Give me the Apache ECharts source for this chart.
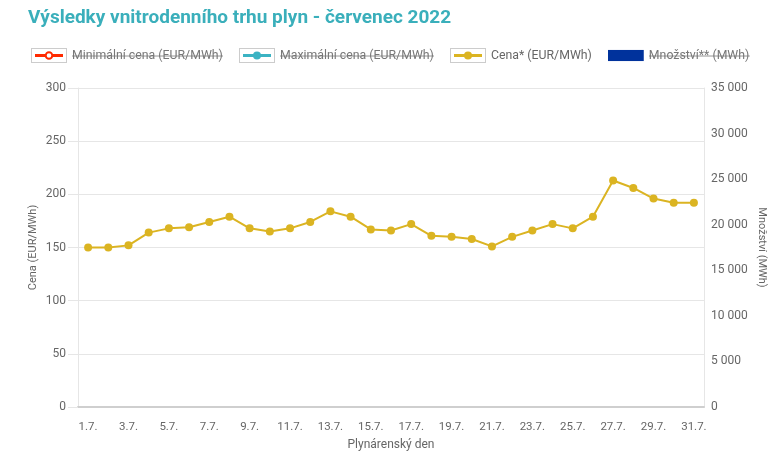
<!DOCTYPE html>
<html><head><meta charset="utf-8">
<script src="https://cdn.jsdelivr.net/npm/echarts@6/dist/echarts.min.js"></script>
<style>html,body{margin:0;padding:0;background:#fff}#c{width:780px;height:454px}</style>
</head><body><div id="c"></div>
<script>
const days = ['1.7.','2.7.','3.7.','4.7.','5.7.','6.7.','7.7.','8.7.','9.7.','10.7.','11.7.','12.7.','13.7.','14.7.','15.7.','16.7.','17.7.','18.7.','19.7.','20.7.','21.7.','22.7.','23.7.','24.7.','25.7.','26.7.','27.7.','28.7.','29.7.','30.7.','31.7.'];
const priceEUR = [150, 150, 152, 164, 168, 169, 174, 179, 168, 165, 168, 174, 184, 179, 167, 166, 172, 161, 160, 158, 151, 160, 166, 172, 168, 179, 213, 206, 196, 192, 192];
const minPrice = [];
const maxPrice = [];
const quantity = [];
const seriesNames = ['Minimální cena (EUR/MWh)', 'Maximální cena (EUR/MWh)', 'Cena* (EUR/MWh)', 'Množství** (MWh)'];
const hiddenSeries = [seriesNames[0], seriesNames[1], seriesNames[3]];

function svgURI(s){ return 'data:image/svg+xml;charset=utf-8,' + encodeURIComponent(s); }
function lineIcon(color, hollow){
  return 'image://' + svgURI('<svg xmlns="http://www.w3.org/2000/svg" width="36" height="15" viewBox="0 0 36 15">' +
    '<rect x="0.5" y="0.5" width="35" height="14" fill="#fff" stroke="#cccccc"/>' +
    '<line x1="4" y1="7.5" x2="32" y2="7.5" stroke="' + color + '" stroke-width="3"/>' +
    '<circle cx="18" cy="7.5" r="' + (hollow ? 3.3 : 4) + '" fill="' + (hollow ? '#fff' : color) + '" stroke="' + color + '" stroke-width="' + (hollow ? 2 : 0) + '"/></svg>');
}
const barIcon = 'image://' + svgURI('<svg xmlns="http://www.w3.org/2000/svg" width="38" height="12"><rect x="0" y="0" width="38" height="12" fill="#00329c"/></svg>');
const strike = svgURI('<svg xmlns="http://www.w3.org/2000/svg" width="200" height="20" viewBox="0 0 200 20" preserveAspectRatio="none"><rect x="0" y="10.2" width="200" height="1.3" fill="#777"/></svg>');

const legendFont = 12.3;
const mctx = document.createElement('canvas').getContext('2d');
mctx.font = legendFont + 'px Roboto';
const rich = {};
hiddenSeries.forEach((n, i) => {
  rich['s' + i] = {fontFamily: 'Roboto', fontSize: legendFont, color: '#777',
    width: Math.ceil(mctx.measureText(n).width), backgroundColor: {image: strike}};
});

const chart = echarts.init(document.getElementById('c'), null, {renderer:'canvas'});
const sel = {}; hiddenSeries.forEach(n => sel[n] = false);
chart.setOption({
  animation: false,
  title: {
    text: 'Výsledky vnitrodenního trhu plyn - červenec 2022',
    left: 23, top: 4,
    textStyle: {fontFamily: 'Roboto', fontWeight: 'bold', fontSize: 19, color: '#3aafbb'}
  },
  legend: {
    left: 26, top: 43, itemWidth: 36, itemHeight: 15, itemGap: 16,
    selected: sel,
    inactiveColor: '#777',
    data: [
      {name: seriesNames[0], icon: lineIcon('#ff2a00', true)},
      {name: seriesNames[1], icon: lineIcon('#3bb3c3', false)},
      {name: seriesNames[2], icon: lineIcon('#dbb422', false)},
      {name: seriesNames[3], icon: barIcon}
    ],
    formatter: n => { const i = hiddenSeries.indexOf(n); return i >= 0 ? '{s' + i + '|' + n + '}' : n; },
    textStyle: {fontFamily: 'Roboto', fontSize: legendFont, color: '#666', rich: rich}
  },
  grid: {left: 78, right: 76, top: 88, bottom: 47, outerBoundsMode: 'none'},
  xAxis: {
    type: 'category', data: days, boundaryGap: true,
    name: 'Plynárenský den', nameLocation: 'middle', nameGap: 32, nameMoveOverlap: false,
    nameTextStyle: {fontFamily: 'Roboto', fontSize: 12, color: '#666'},
    axisLine: {lineStyle: {color: '#cfcfcf', width: 2}},
    axisTick: {show: false},
    axisLabel: {interval: 1, color: '#666', fontFamily: 'Roboto', fontSize: 11.5, margin: 14}
  },
  yAxis: [
    {
      type: 'value', min: 0, max: 300, interval: 50,
      name: 'Cena (EUR/MWh)', nameLocation: 'middle', nameGap: 39, nameMoveOverlap: false,
      nameTextStyle: {fontFamily: 'Roboto', fontSize: 11, color: '#666'},
      axisLine: {show: true, lineStyle: {color: '#e6e6e6'}},
      axisTick: {show: true, length: 10, lineStyle: {color: '#e6e6e6'}},
      axisLabel: {color: '#666', fontFamily: 'Roboto', fontSize: 12, margin: 12, showMaxLabel: true},
      splitLine: {lineStyle: {color: '#e6e6e6'}}
    },
    {
      type: 'value', min: 0, max: 35000, interval: 5000, position: 'right',
      name: 'Množství (MWh)', nameLocation: 'middle', nameGap: 52, nameRotate: -90, nameMoveOverlap: false,
      nameTextStyle: {fontFamily: 'Roboto', fontSize: 11, color: '#666'},
      axisLine: {show: true, lineStyle: {color: '#e6e6e6'}},
      axisTick: {show: false},
      axisLabel: {color: '#666', fontFamily: 'Roboto', fontSize: 12, margin: 7,
        formatter: v => String(v).replace(/\B(?=(\d{3})+(?!\d))/g, ' ')},
      splitLine: {show: false}
    }
  ],
  series: [
    {name: seriesNames[0], type: 'line', data: minPrice, color: '#ff2a00', symbol: 'circle'},
    {name: seriesNames[1], type: 'line', data: maxPrice, color: '#3bb3c3', symbol: 'circle'},
    {name: seriesNames[2], type: 'line', data: priceEUR, color: '#dbb422',
      symbol: 'circle', symbolSize: 8, lineStyle: {width: 2}, z: 5},
    {name: seriesNames[3], type: 'bar', yAxisIndex: 1, data: quantity, color: '#00329c'}
  ]
});
</script></body></html>
